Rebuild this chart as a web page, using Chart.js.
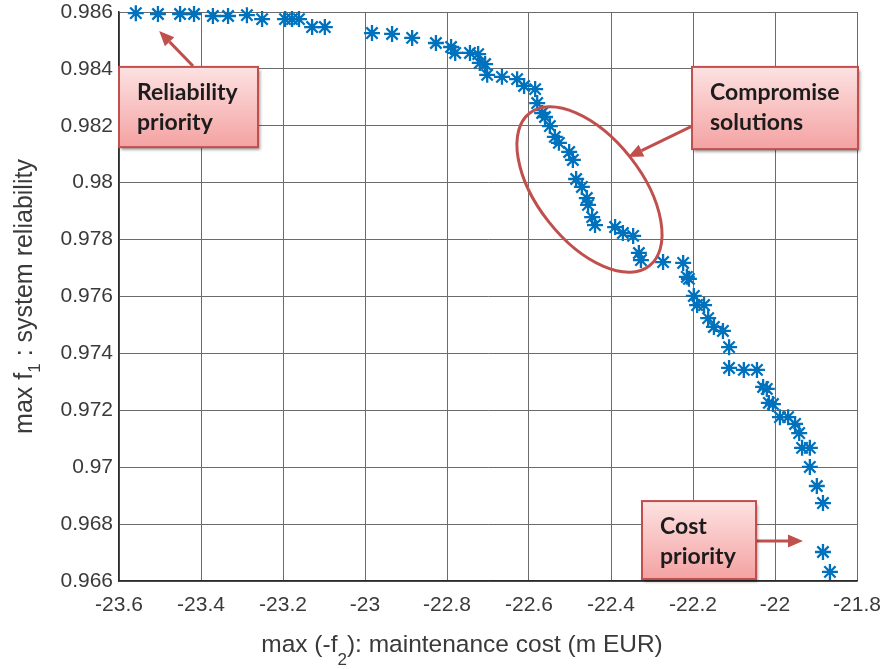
<!DOCTYPE html>
<html>
<head>
<meta charset="utf-8">
<script src="https://cdn.jsdelivr.net/npm/chart.js@4.4.1/dist/chart.umd.min.js"></script>
<style>
  html, body { margin: 0; padding: 0; background: #ffffff; }
  #wrap { width: 887px; height: 669px; }
</style>
</head>
<body>
<div id="wrap"><canvas id="c" width="887" height="669"></canvas></div>
<script>
// Pareto front: maintenance cost (x, m EUR, negated) vs. system reliability (y)
const maintenanceCost = [
  -23.559, -23.505, -23.451, -23.417, -23.371, -23.334, -23.288, -23.251, -23.195, -23.178,
  -23.161, -23.129, -23.098, -22.983, -22.934, -22.885, -22.827, -22.790, -22.780, -22.744,
  -22.724, -22.720, -22.707, -22.702, -22.666, -22.629, -22.612, -22.585, -22.580, -22.568,
  -22.561, -22.549, -22.537, -22.527, -22.502, -22.493, -22.485, -22.471, -22.459, -22.456,
  -22.446, -22.439, -22.390, -22.371, -22.346, -22.332, -22.327, -22.273, -22.224, -22.215,
  -22.210, -22.198, -22.190, -22.173, -22.163, -22.149, -22.127, -22.112, -22.112, -22.076,
  -22.044, -22.029, -22.020, -22.015, -22.005, -21.988, -21.968, -21.951, -21.941, -21.934,
  -21.915, -21.915, -21.898, -21.883, -21.883, -21.866
];
const systemReliability = [
  0.98596, 0.98593, 0.98593, 0.98593, 0.98586, 0.98586, 0.98589, 0.98575, 0.98575, 0.98575,
  0.98575, 0.98547, 0.98547, 0.98526, 0.98523, 0.98509, 0.98491, 0.98477, 0.98456, 0.98456,
  0.98452, 0.98421, 0.98417, 0.98379, 0.98372, 0.98364, 0.98340, 0.98329, 0.98280, 0.98245,
  0.98231, 0.98199, 0.98161, 0.98140, 0.98108, 0.98080, 0.98013, 0.97985, 0.97946, 0.97922,
  0.97879, 0.97851, 0.97844, 0.97823, 0.97813, 0.97753, 0.97728, 0.97721, 0.97718, 0.97669,
  0.97662, 0.97602, 0.97570, 0.97570, 0.97524, 0.97493, 0.97479, 0.97422, 0.97349, 0.97342,
  0.97342, 0.97282, 0.97275, 0.97226, 0.97222, 0.97176, 0.97176, 0.97152, 0.97120, 0.97068,
  0.97068, 0.97001, 0.96934, 0.96874, 0.96702, 0.96632
];

const xTickValues = [-23.6, -23.4, -23.2, -23.0, -22.8, -22.6, -22.4, -22.2, -22.0, -21.8];
const xTickLabels = ['-23.6', '-23.4', '-23.2', '-23', '-22.8', '-22.6', '-22.4', '-22.2', '-22', '-21.8'];
const yTickValues = [0.966, 0.968, 0.970, 0.972, 0.974, 0.976, 0.978, 0.980, 0.982, 0.984, 0.986];
const yTickLabels = ['0.966', '0.968', '0.97', '0.972', '0.974', '0.976', '0.978', '0.98', '0.982', '0.984', '0.986'];

// Axis titles as [text, subscript, text] pieces
const xTitleParts = ['max (-f', '2', '): maintenance cost (m EUR)'];
const yTitleParts = ['max f', '1', ' : system reliability'];

// Callout boxes, arrows and the ellipse, anchored in data units
const callouts = [
  { lines: ['Reliability', 'priority'],
    box: { x0: -23.600, x1: -23.261, y0: 0.98407, y1: 0.98125 },
    arrow: { from: [-23.4195, 0.98410], to: [-23.502, 0.98533] } },
  { lines: ['Compromise', 'solutions'],
    box: { x0: -22.2024, x1: -21.7976, y0: 0.98407, y1: 0.98118 },
    arrow: { from: [-22.2024, 0.98199], to: [-22.3585, 0.98090] } },
  { lines: ['Cost', 'priority'],
    box: { x0: -22.3244, x1: -22.0463, y0: 0.96881, y1: 0.96607 },
    arrow: { from: [-22.0463, 0.96741], to: [-21.9317, 0.96741] } }
];
const compromiseEllipse = { cx: -22.4525, cy: 0.97976, rx: 97, ry: 52, angleDeg: 51.8 };

const calloutRed = '#c0504d';
const textFont = 'Liberation Sans, Arial, Helvetica, sans-serif';
const labelGray = '#3a3a3a';

function drawArrow(ctx, x1, y1, x2, y2) {
  const ang = Math.atan2(y2 - y1, x2 - x1);
  const headLen = 15, headHalf = 6.5;
  const bx = x2 - headLen * Math.cos(ang), by = y2 - headLen * Math.sin(ang);
  ctx.strokeStyle = calloutRed;
  ctx.fillStyle = calloutRed;
  ctx.lineWidth = 3;
  ctx.beginPath();
  ctx.moveTo(x1, y1);
  ctx.lineTo(bx, by);
  ctx.stroke();
  ctx.beginPath();
  ctx.moveTo(x2, y2);
  ctx.lineTo(bx + headHalf * Math.sin(ang), by - headHalf * Math.cos(ang));
  ctx.lineTo(bx - headHalf * Math.sin(ang), by + headHalf * Math.cos(ang));
  ctx.closePath();
  ctx.fill();
}

// Draws "text + lowered subscript + text" centred on (0,0) of the current transform
function drawSubscriptTitle(ctx, parts, size, subSize, subDrop) {
  const mainFont = size + 'px ' + textFont;
  const subFont = subSize + 'px ' + textFont;
  ctx.font = mainFont; const w0 = ctx.measureText(parts[0]).width;
  ctx.font = subFont;  const w1 = ctx.measureText(parts[1]).width;
  ctx.font = mainFont; const w2 = ctx.measureText(parts[2]).width;
  let x = -(w0 + w1 + w2) / 2;
  ctx.textAlign = 'left';
  ctx.textBaseline = 'alphabetic';
  ctx.fillStyle = labelGray;
  ctx.font = mainFont; ctx.fillText(parts[0], x, 0); x += w0;
  ctx.font = subFont;  ctx.fillText(parts[1], x, subDrop); x += w1;
  ctx.font = mainFont; ctx.fillText(parts[2], x, 0);
}

const axisTitlePlugin = {
  id: 'axisTitles',
  afterDraw(chart) {
    const ctx = chart.ctx, a = chart.chartArea;
    ctx.save();
    ctx.translate((a.left + a.right) / 2 - 26, 652);
    drawSubscriptTitle(ctx, xTitleParts, 24.5, 17, 13);
    ctx.restore();

    ctx.save();
    ctx.translate(32, (a.top + a.bottom) / 2);
    ctx.rotate(-Math.PI / 2);
    drawSubscriptTitle(ctx, yTitleParts, 25, 17, 8);
    ctx.restore();
  }
};

const calloutPlugin = {
  id: 'callouts',
  afterDatasetsDraw(chart) {
    const ctx = chart.ctx;
    const xs = chart.scales.x, ys = chart.scales.y;
    ctx.save();

    // ellipse around the compromise region
    const ex = xs.getPixelForValue(compromiseEllipse.cx);
    const ey = ys.getPixelForValue(compromiseEllipse.cy);
    ctx.strokeStyle = calloutRed;
    ctx.lineWidth = 3;
    ctx.beginPath();
    ctx.ellipse(ex, ey, compromiseEllipse.rx, compromiseEllipse.ry,
      compromiseEllipse.angleDeg * Math.PI / 180, 0, Math.PI * 2);
    ctx.stroke();

    callouts.forEach(c => {
      const x0 = xs.getPixelForValue(c.box.x0), x1 = xs.getPixelForValue(c.box.x1);
      const y0 = ys.getPixelForValue(c.box.y0), y1 = ys.getPixelForValue(c.box.y1);
      const w = x1 - x0, h = y1 - y0;

      // arrow
      drawArrow(ctx,
        xs.getPixelForValue(c.arrow.from[0]), ys.getPixelForValue(c.arrow.from[1]),
        xs.getPixelForValue(c.arrow.to[0]), ys.getPixelForValue(c.arrow.to[1]));

      // box with soft shadow
      ctx.save();
      ctx.shadowColor = 'rgba(0,0,0,0.45)';
      ctx.shadowBlur = 3;
      ctx.shadowOffsetX = 2;
      ctx.shadowOffsetY = 3;
      const g = ctx.createLinearGradient(0, y0, 0, y1);
      g.addColorStop(0, '#fde2e2');
      g.addColorStop(1, '#f4a2a2');
      ctx.fillStyle = g;
      ctx.fillRect(x0, y0, w, h);
      ctx.restore();
      ctx.strokeStyle = calloutRed;
      ctx.lineWidth = 2;
      ctx.strokeRect(x0, y0, w, h);

      // label
      ctx.fillStyle = '#1c1c1c';
      ctx.font = 'bold 23px Lato, "Open Sans", sans-serif';
      ctx.textAlign = 'left';
      ctx.textBaseline = 'alphabetic';
      c.lines.forEach((ln, i) => {
        ctx.fillText(ln, x0 + 18, y0 + 33 + i * 30);
      });
    });
    ctx.restore();
  }
};

const ctx = document.getElementById('c').getContext('2d');
new Chart(ctx, {
  type: 'scatter',
  data: {
    datasets: [{
      data: maintenanceCost.map((x, i) => ({ x: x, y: systemReliability[i] })),
      pointStyle: 'star',
      radius: 8,
      hoverRadius: 8,
      borderColor: '#0072bd',
      backgroundColor: '#0072bd',
      borderWidth: 2.3,
      clip: false
    }]
  },
  options: {
    responsive: false,
    animation: false,
    devicePixelRatio: 1,
    layout: { padding: { left: 10, right: 30, top: 12, bottom: 8 } },
    plugins: { legend: { display: false }, tooltip: { enabled: false } },
    scales: {
      x: {
        type: 'linear',
        min: -23.6, max: -21.8,
        afterBuildTicks: s => { s.ticks = xTickValues.map(v => ({ value: v })); },
        afterFit: s => { s.height = 669 - 581 - 8; s.paddingLeft = 0; s.paddingRight = 0; },
        ticks: {
          autoSkip: false,
          maxRotation: 0,
          padding: 12,
          color: labelGray,
          font: { family: textFont, size: 21 },
          callback: (v, i) => xTickLabels[i]
        },
        grid: { color: '#6b6b6b', lineWidth: 1, drawTicks: false },
        border: { color: '#2a2a2a', width: 1.5 },
        title: { display: false }
      },
      y: {
        type: 'linear',
        min: 0.966, max: 0.986,
        afterBuildTicks: s => { s.ticks = yTickValues.map(v => ({ value: v })); },
        afterFit: s => { s.width = 119 - 10; s.paddingTop = 0; s.paddingBottom = 0; },
        ticks: {
          autoSkip: false,
          padding: 6,
          color: labelGray,
          font: { family: textFont, size: 21 },
          callback: (v, i) => yTickLabels[i]
        },
        grid: { color: '#6b6b6b', lineWidth: 1, drawTicks: false },
        border: { color: '#2a2a2a', width: 1.5 },
        title: { display: false }
      }
    }
  },
  plugins: [calloutPlugin, axisTitlePlugin]
});
</script>
</body>
</html>
